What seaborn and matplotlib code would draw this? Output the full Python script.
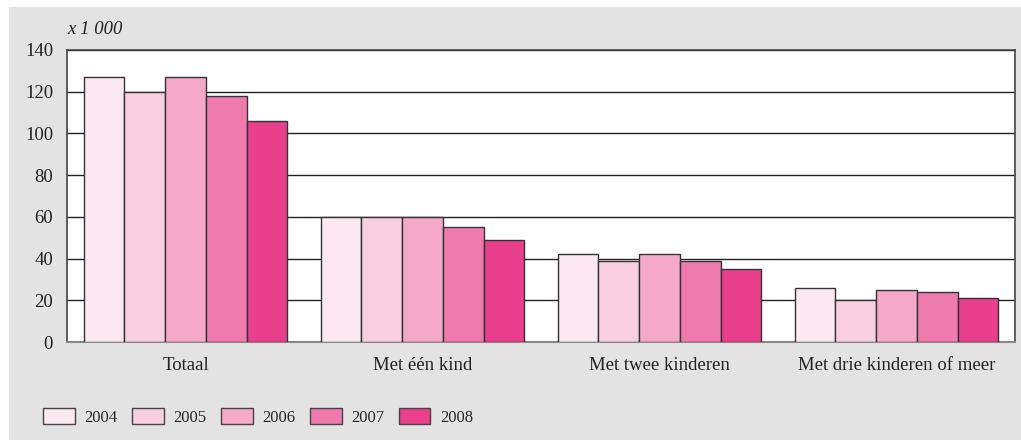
import pandas as pd
import matplotlib.pyplot as plt
import matplotlib.patches as mpatches
import seaborn as sns

categories = ["Totaal", "Met één kind", "Met twee kinderen", "Met drie kinderen of meer"]
years = ["2004", "2005", "2006", "2007", "2008"]
values = {
    "2004": [127, 60, 42, 26],
    "2005": [120, 60, 39, 20],
    "2006": [127, 60, 42, 25],
    "2007": [118, 55, 39, 24],
    "2008": [106, 49, 35, 21],
}
colors = ["#FCE8F1", "#F8CFE1", "#F3A9C7", "#EE7BAB", "#E8408B"]

rows = []
for y in years:
    for c, v in zip(categories, values[y]):
        rows.append({"categorie": c, "jaar": y, "aantal": v})
df = pd.DataFrame(rows)

sns.set_style("white")
plt.rcParams["font.family"] = ["Liberation Serif", "DejaVu Serif"]

fig = plt.figure(figsize=(10.21, 4.40), dpi=100)
fig.patch.set_facecolor("white")
# grey panel behind the chart
fig.patches.append(mpatches.Rectangle((9 / 1021, 0), 1, (440 - 7) / 440,
                                      transform=fig.transFigure, facecolor="#E2E3E2",
                                      edgecolor="none", zorder=-10))

ax = fig.add_axes([67 / 1021, (440 - 342) / 440, (1015 - 67) / 1021, 292 / 440])
ax.set_facecolor("white")

sns.barplot(data=df, x="categorie", y="aantal", hue="jaar", order=categories,
            hue_order=years, palette=colors, saturation=1, width=0.86, gap=0,
            edgecolor="#333333", linewidth=1, ax=ax, legend=False, zorder=3)

ax.set_ylim(0, 140)
ax.set_yticks(range(0, 141, 20))
ax.yaxis.grid(True, color="#222222", linewidth=1)
ax.set_axisbelow(True)
for b in ax.patches:
    b.set_zorder(3)
ax.tick_params(axis="both", length=0, labelsize=13.5, colors="#222222")
ax.tick_params(axis="x", pad=11)
ax.tick_params(axis="y", pad=10)
ax.set_xlabel("")
ax.set_ylabel("")
for s in ["left", "top", "right"]:
    ax.spines[s].set_color("#444444")
    ax.spines[s].set_linewidth(1.2)
ax.spines["bottom"].set_color("#888888")
ax.spines["bottom"].set_linewidth(1.5)

ax.text(0, 1.04, "x 1 000", transform=ax.transAxes, fontsize=13.5, style="italic",
        ha="left", va="bottom", color="#222222")

handles = [mpatches.Patch(facecolor=c, edgecolor="#444444", linewidth=1, label=y)
           for c, y in zip(colors, years)]
fig.legend(handles=handles, ncol=5, loc="lower left", bbox_to_anchor=(28 / 1021, -0.002),
           frameon=False, fontsize=12, handlelength=1.9, handleheight=1.05,
           handletextpad=0.6, columnspacing=0.85)

fig.savefig("out.png", dpi=100)
